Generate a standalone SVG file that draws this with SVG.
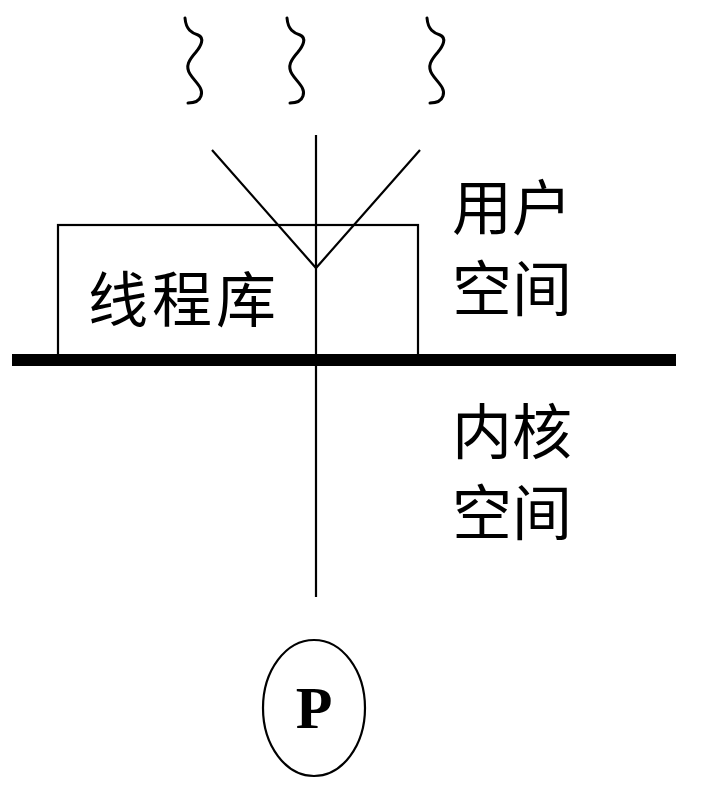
<svg xmlns="http://www.w3.org/2000/svg" width="708" height="790" viewBox="0 0 708 790">
<defs>
<style>
.ln{stroke:#000;stroke-width:2.2;fill:none}
.sq{stroke:#000;stroke-width:3;fill:none;stroke-linecap:round}
.cjk{font-family:"Noto Sans CJK SC","Noto Sans",sans-serif;font-size:60px;fill:#000}
</style>
<path id="wave" d="M185,18 C186,30 192,33 198,35 C205,38 201,46 196,52 C189,60 185,66 190,74 C195,82 204,88 201,96 C199,102 193,103 188,103"/>
</defs>
<rect width="708" height="790" fill="#fff"/>
<g id="waves" class="sq">
<use href="#wave"/>
<use href="#wave" transform="translate(102,0)"/>
<use href="#wave" transform="translate(242,0)"/>
</g>
<g id="thread-lib">
<rect x="58" y="225" width="360" height="131" class="ln"/>
<text x="88" y="322" class="cjk" font-size="66" letter-spacing="4">线程库</text>
</g>
<g id="boundary">
<rect x="12" y="354" width="664" height="12" fill="#000"/>
</g>
<g id="connectors" class="ln">
<line x1="316" y1="135" x2="316" y2="597"/>
<polyline points="212,150 316,268 420,150"/>
</g>
<g id="user-space">
<text x="452" y="230" class="cjk">用户</text>
<text x="452" y="311" class="cjk">空间</text>
</g>
<g id="kernel-space">
<text x="452" y="454" class="cjk">内核</text>
<text x="452" y="535" class="cjk">空间</text>
</g>
<g id="process">
<ellipse cx="314" cy="708" rx="51" ry="68" class="ln"/>
<text x="314" y="728" text-anchor="middle" font-family="Liberation Serif,serif" font-weight="bold" font-size="60">P</text>
</g>
</svg>
